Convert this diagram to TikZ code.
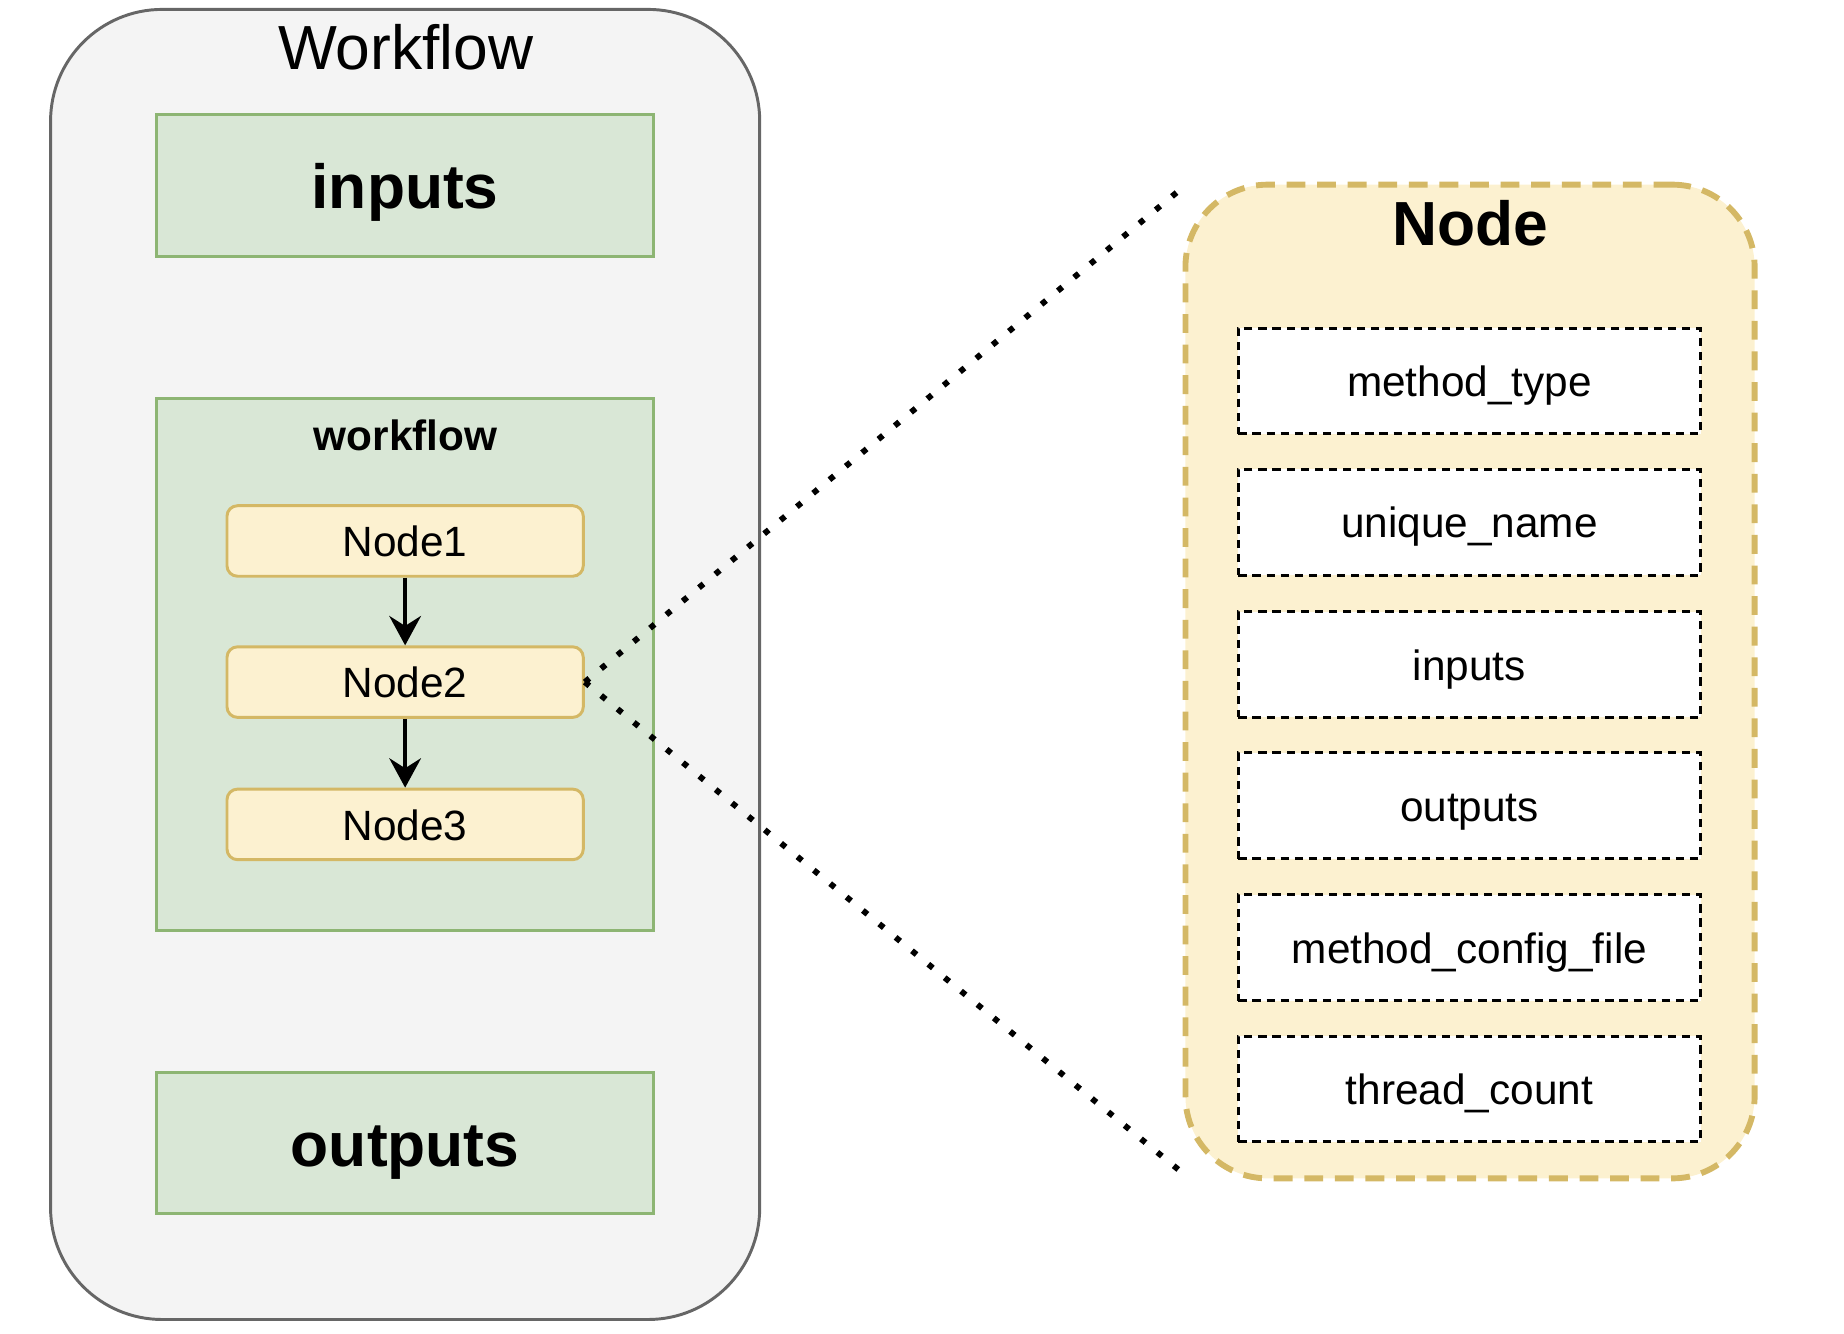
\documentclass[tikz,border=0pt]{standalone}
\usepackage{fontspec}
\setmainfont{Liberation Sans}
\usetikzlibrary{arrows.meta}
\definecolor{grayfill}{HTML}{F4F4F4}
\definecolor{graystroke}{HTML}{666666}
\definecolor{greenfill}{HTML}{D9E7D6}
\definecolor{greenstroke}{HTML}{8DB573}
\definecolor{yellowfill}{HTML}{FCF1D0}
\definecolor{yellowstroke}{HTML}{D4B865}
\begin{document}
\begin{tikzpicture}[x=1pt,y=-1pt,
  container/.style={draw=graystroke, fill=grayfill, line width=2.5pt, rounded corners=95pt, minimum width=603pt, minimum height=1114pt, inner sep=0pt},
  greenbox/.style={draw=greenstroke, fill=greenfill, line width=2.5pt, minimum width=423pt, inner sep=0pt},
  midtext/.style={font=\fontsize{36}{40}\selectfont, text height=26.6pt, text depth=0pt},
  bigtext/.style={font=\fontsize{53}{60}\selectfont\bfseries, text height=39.2pt, text depth=0pt},
  nodebox/.style={draw=yellowstroke, fill=yellowfill, line width=2.5pt, rounded corners=9pt, minimum width=303pt, minimum height=60pt, inner sep=0pt, midtext},
  panel/.style={draw=yellowstroke, fill=yellowfill, line width=5pt, dash pattern=on 16pt off 10pt, rounded corners=70pt, minimum width=484pt, minimum height=845pt, inner sep=0pt},
  field/.style={draw=black, fill=white, line width=2.5pt, dash pattern=on 7pt off 5pt, minimum width=393pt, minimum height=90pt, inner sep=0pt, midtext},
  flow/.style={line width=3pt, -{Stealth[length=25pt,width=27pt,inset=8.5pt]}},
  zoomline/.style={line width=5pt, dash pattern=on 5pt off 13pt}
]
\useasboundingbox (0,0) rectangle (1568,1134);
% left container
\node[container] (wf) at (344.5,565) {};
\node[font=\fontsize{53}{60}\selectfont, text height=38pt, text depth=0pt, inner sep=0pt] (wftitle) at (345,40) {Workflow};
\node[greenbox, minimum height=121pt, bigtext] (inputs) at (344.5,157.5) {inputs};
\node[greenbox, minimum height=452pt] (wfbox) at (344.5,565) {};
\node[font=\fontsize{36}{40}\selectfont\bfseries, inner sep=0pt] (wflabel) at (345,370) {workflow};
\node[nodebox] (n1) at (344.5,460) {Node1};
\node[nodebox] (n2) at (344.5,580) {Node2};
\node[nodebox] (n3) at (344.5,701) {Node3};
\node[greenbox, minimum height=120pt, bigtext] (outputs) at (344.5,972) {outputs};
\draw[flow] (n1) -- (n2);
\draw[flow] (n2) -- (n3);
% right panel
\node[panel] (panel) at (1250,579.5) {};
\node[font=\fontsize{53}{60}\selectfont\bfseries, inner sep=0pt] (paneltitle) at (1250,190) {Node};
\node[field] (f1) at (1249.5,324) {method\_type};
\node[field] (f2) at (1249.5,444) {unique\_name};
\node[field] (f3) at (1249.5,565) {inputs};
\node[field] (f4) at (1249.5,685) {outputs};
\node[field] (f5) at (1249.5,806) {method\_config\_file};
\node[field] (f6) at (1249.5,926) {thread\_count};
% zoom lines
\coordinate (zt) at (1005,160);
\coordinate (zb) at (1005,997);
\draw[zoomline] (n2.east) -- (zt);
\draw[zoomline] (n2.east) -- (zb);
\end{tikzpicture}
\end{document}
